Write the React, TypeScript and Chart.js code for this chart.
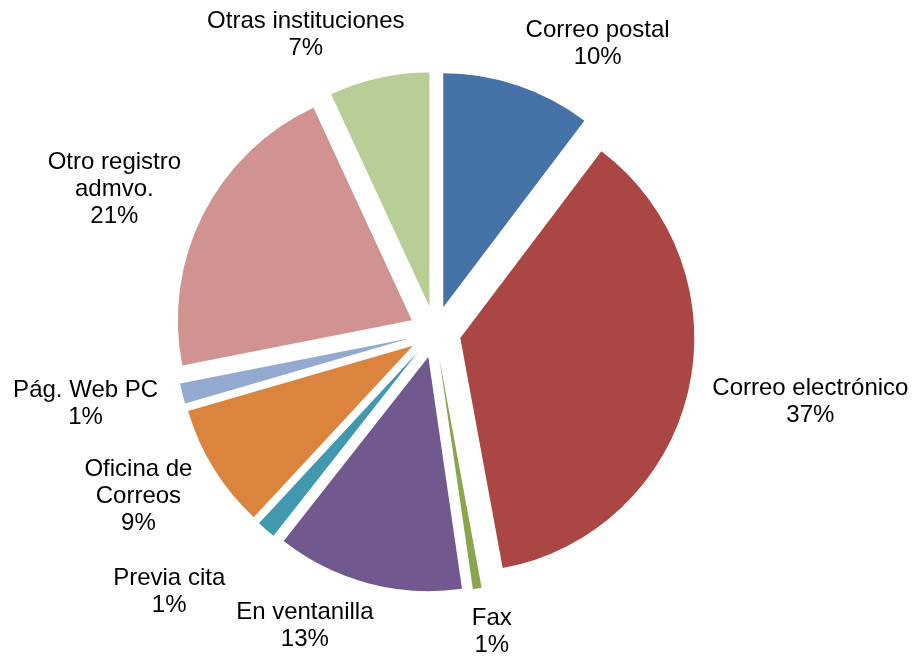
import React, { useEffect, useRef } from 'react';
import { Chart, registerables } from 'chart.js';

Chart.register(...registerables);

// ---- Data ----
const categories: string[][] = [
  ['Correo postal'],
  ['Correo electrónico'],
  ['Fax'],
  ['En ventanilla'],
  ['Previa cita'],
  ['Oficina de', 'Correos'],
  ['Pág. Web PC'],
  ['Otro registro', 'admvo.'],
  ['Otras instituciones'],
];
const values: number[] = [10.3, 36.8, 0.6, 12.9, 1.3, 8.6, 1.4, 21.2, 6.9];
const colors: string[] = [
  '#4572A7',
  '#AA4643',
  '#89A54E',
  '#71588F',
  '#4198AF',
  '#DB843D',
  '#93A9CF',
  '#D19392',
  '#B9CD96',
];

// ---- Styling ----
const RADIUS = 234;
const EXPLODE = 26;
const LABEL_GAP = 25;
const FONT = '24px "Liberation Sans", Arial, sans-serif';
const LINE_H = 27;
const BOX_PAD = 10;

const explodePlugin = {
  id: 'explodeSlices',
  beforeDatasetsDraw(chart: any) {
    const { left, right, top, bottom } = chart.chartArea;
    const cx = (left + right) / 2;
    const cy = (top + bottom) / 2;
    chart.getDatasetMeta(0).data.forEach((arc: any) => {
      const mid = (arc.startAngle + arc.endAngle) / 2;
      arc.x = cx + Math.cos(mid) * EXPLODE;
      arc.y = cy + Math.sin(mid) * EXPLODE;
    });
  },
};

type Box = { x0: number; y0: number; x1: number; y1: number };

const labelPlugin = {
  id: 'outsideLabels',
  afterDatasetsDraw(chart: any) {
    const ctx = chart.ctx;
    const { left, right, top, bottom } = chart.chartArea;
    const cx = (left + right) / 2;
    const cy = (top + bottom) / 2;
    const data = chart.data.datasets[0].data as number[];
    const total = data.reduce((a, b) => a + b, 0);
    const arcs = chart.getDatasetMeta(0).data;
    ctx.save();
    ctx.font = FONT;
    ctx.fillStyle = '#000';
    ctx.textAlign = 'center';
    ctx.textBaseline = 'middle';

    // place larger slices' labels first, smaller ones get pushed outward on collision
    const order = data.map((_, i) => i).sort((a, b) => data[b] - data[a]);
    const placed: Box[] = [];
    const results: { lines: string[]; bx: number; by: number }[] = [];

    order.forEach((i) => {
      const arc: any = arcs[i];
      const mid = (arc.startAngle + arc.endAngle) / 2;
      const lines = [...categories[i], Math.round((data[i] / total) * 100) + '%'];
      const w = Math.max(...lines.map((l) => ctx.measureText(l).width));
      const h = lines.length * LINE_H;
      const f = Math.max(-1, Math.min(1, Math.cos(mid) * 3.2));
      let d = arc.outerRadius + EXPLODE + LABEL_GAP;
      let bx = 0;
      let by = 0;
      for (let k = 0; k < 60; k++) {
        const px = cx + Math.cos(mid) * d;
        const py = cy + Math.sin(mid) * d;
        bx = px + (f * w) / 2;
        by = py + Math.sin(mid) * h * 0.35;
        const box = { x0: bx - w / 2, x1: bx + w / 2, y0: by - h / 2, y1: by + h / 2 };
        const hit = placed.some(
          (p) =>
            box.x0 < p.x1 + BOX_PAD &&
            box.x1 > p.x0 - BOX_PAD &&
            box.y0 < p.y1 + BOX_PAD &&
            box.y1 > p.y0 - BOX_PAD,
        );
        if (!hit) {
          placed.push(box);
          break;
        }
        d += 2;
      }
      results[i] = { lines, bx, by };
    });

    results.forEach(({ lines, bx, by }) => {
      lines.forEach((l, j) => {
        ctx.fillText(l, bx, by + (j - (lines.length - 1) / 2) * LINE_H);
      });
    });
    ctx.restore();
  },
};

export default function App() {
  const canvasRef = useRef<HTMLCanvasElement | null>(null);

  useEffect(() => {
    if (!canvasRef.current) return;
    const chart = new Chart(canvasRef.current, {
      type: 'pie',
      data: {
        labels: categories.map((c) => c.join(' ')),
        datasets: [
          {
            data: values,
            backgroundColor: colors,
            borderWidth: 0,
          },
        ],
      },
      options: {
        responsive: false,
        animation: false,
        radius: RADIUS,
        layout: { padding: { left: 0, right: 47, top: 7, bottom: 0 } },
        plugins: {
          legend: { display: false },
          tooltip: { enabled: false },
        },
      } as any,
      plugins: [explodePlugin, labelPlugin],
    });
    return () => chart.destroy();
  }, []);

  return (
    <canvas
      ref={canvasRef}
      width={917}
      height={657}
      style={{ position: 'fixed', left: 0, top: 0, width: 917, height: 657, background: '#fff' }}
    />
  );
}
